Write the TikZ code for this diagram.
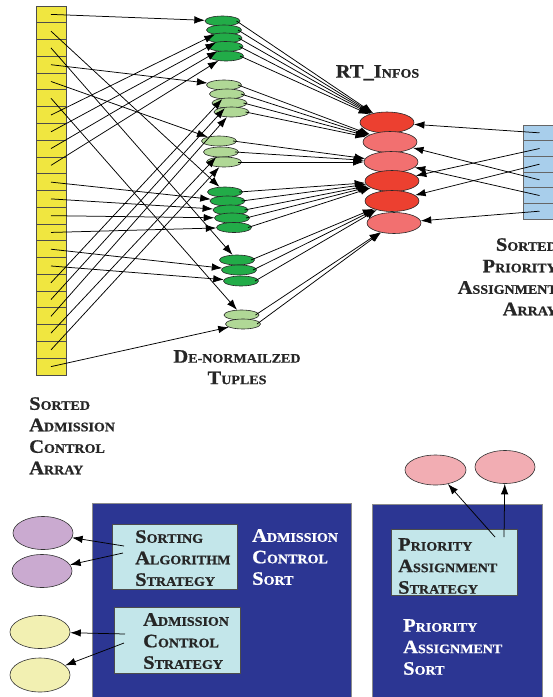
\documentclass[tikz,border=0pt]{standalone}
\usepackage{fontspec}
\newfontfamily\scfont{Liberation Serif}[FakeStretch=1.08, BoldFeatures={FakeBold=0.8}]
\usetikzlibrary{shapes.geometric,arrows.meta}
\definecolor{cellyellow}{RGB}{240,230,64}
\definecolor{cellblue}{RGB}{168,206,235}
\definecolor{dkgreen}{RGB}{34,172,72}
\definecolor{ltgreen}{RGB}{176,216,150}
\definecolor{dkred}{RGB}{236,64,48}
\definecolor{ltred}{RGB}{242,112,112}
\definecolor{navybox}{RGB}{44,54,147}
\definecolor{cyanbox}{RGB}{195,230,234}
\definecolor{lilac}{RGB}{202,170,208}
\definecolor{paleyellow}{RGB}{242,240,178}
\definecolor{pinkell}{RGB}{242,173,179}
\newcommand\Sc[2]{{\fontsize{19}{21.5}\selectfont #1}#2}
\begin{document}
\begin{tikzpicture}[x=1pt,y=-1pt,
  lbl/.style={inner sep=0pt, font=\scfont\bfseries\fontsize{13}{21.5}\selectfont, text=black!85},
  wlbl/.style={lbl, text=white},
  ycell/.style={draw=black!70, line width=0.9pt, fill=cellyellow, minimum width=30pt, minimum height=16.77pt, inner sep=0pt},
  bcell/.style={draw=black!60, line width=0.6pt, fill=cellblue, minimum width=33pt, minimum height=15.67pt, inner sep=0pt},
  gell/.style={ellipse, draw=black!85, line width=0.6pt, minimum width=35pt, minimum height=10pt, inner sep=0pt},
  dg/.style={gell, fill=dkgreen},
  lg/.style={gell, fill=ltgreen},
  rell/.style={ellipse, draw=black!85, line width=0.6pt, minimum width=54pt, minimum height=21pt, inner sep=0pt},
  dr/.style={rell, fill=dkred},
  lr/.style={rell, fill=ltred},
  bigell/.style={ellipse, draw=black!80, line width=0.6pt, minimum width=60pt, minimum height=32pt, inner sep=0pt},
  bluebox/.style={draw=black!45, line width=0.8pt, fill=navybox, inner sep=0pt},
  cyanrect/.style={draw=black!70, line width=0.8pt, fill=cyanbox, inner sep=0pt},
  arr/.style={-{Latex[length=10.5pt,width=7.5pt]}, line width=0.75pt, black},
]
\useasboundingbox (0,0) rectangle (553,697);

% left array
\foreach \i in {1,...,22}
  \node[ycell] (c\i) at (51,{6+(\i-0.5)*16.773}) {};

% right array
\foreach \i in {1,...,6}
  \node[bcell] (rc\i) at (539.5,{125+(\i-0.5)*15.67}) {};

% green ellipses
\node[dg] (g11) at (222.5,21) {};
\node[dg] (g12) at (224,30) {};
\node[dg] (g13) at (224.5,38) {};
\node[dg] (g14) at (225.5,46.5) {};
\node[dg] (g15) at (226,56) {};
\node[lg] (g21) at (224,85) {};
\node[lg] (g22) at (227,94) {};
\node[lg] (g23) at (229.5,103) {};
\node[lg] (g24) at (231.5,112) {};
\node[lg] (g31) at (219,141) {};
\node[lg] (g32) at (221,152) {};
\node[lg] (g33) at (224,162) {};
\node[dg] (g41) at (225,192) {};
\node[dg] (g42) at (227.5,201) {};
\node[dg] (g43) at (230.5,210) {};
\node[dg] (g44) at (232,218) {};
\node[dg] (g45) at (234,227.5) {};
\node[dg] (g51) at (237,260) {};
\node[dg] (g52) at (239,270) {};
\node[dg] (g53) at (241,281) {};
\node[lg] (g61) at (241.5,315) {};
\node[lg] (g62) at (243,324) {};

% red ellipses
\node[dr] (r1) at (387,122.5) {};
\node[lr] (r2) at (390,142) {};
\node[lr] (r3) at (391,162) {};
\node[dr] (r4) at (392,181) {};
\node[dr] (r5) at (392,201) {};
\node[lr] (r6) at (394,223) {};

% arrows: left array -> tuples
\foreach \c/\g in {1/11,2/41,3/51,4/21,5/31,6/61,7/12,8/13,9/14,10/15,11/42,12/43,13/44,14/45,15/52,16/53,17/22,18/23,19/24,20/32,21/33,22/62}
  \draw[arr] (c\c.center) -- (g\g);

% arrows: tuples -> RT infos
\foreach \g/\r in {11/1,12/1,13/1,14/1,15/1,21/2,22/2,23/2,24/2,31/3,32/3,33/3,41/4,42/4,43/4,44/4,45/4,51/5,52/5,53/5,61/6,62/6}
  \draw[arr] ([xshift=14pt]g\g.center) -- (r\r);

% arrows: priority array -> RT infos
\foreach \a/\b in {1/1,2/4,3/5,4/2,5/3,6/6}
  \draw[arr] (rc\a.center) -- (r\b);

% labels top part
\node[lbl, anchor=north] (rtl) at (377.5,65) {\Sc{RT\_I}{NFOS}};
\node[lbl, anchor=north, align=center] (dnt) at (237,350) {\Sc{D}{E-NORMAILZED}\\\Sc{T}{UPLES}};
\node[lbl, anchor=north west, align=left] (saca) at (29,397) {\Sc{S}{ORTED}\\\Sc{A}{DMISSION}\\\Sc{C}{ONTROL}\\\Sc{A}{RRAY}};
\node[lbl, anchor=north east, align=right] (spaa) at (557,238) {\Sc{S}{ORTED}\\\Sc{P}{RIORITY}\\\Sc{A}{SSIGNMENT}\\\Sc{A}{RRAY}};

% bottom left: admission control sort
\node[bluebox, minimum width=259pt, minimum height=197pt, anchor=north west] (acs) at (92,503) {};
\node[cyanrect, minimum width=125pt, minimum height=65pt, anchor=north west] (sas) at (112,524) {};
\node[cyanrect, minimum width=126pt, minimum height=66pt, anchor=north west] (acst) at (114,607) {};
\node[lbl, anchor=north west, align=left] (sast) at (135,530) {\Sc{S}{ORTING}\\\Sc{A}{LGORITHM}\\\Sc{S}{TRATEGY}};
\node[lbl, anchor=north west, align=left] (acstt) at (143,613) {\Sc{A}{DMISSION}\\\Sc{C}{ONTROL}\\\Sc{S}{TRATEGY}};
\node[wlbl, anchor=north west, align=left] (acsl) at (252,529) {\Sc{A}{DMISSION}\\\Sc{C}{ONTROL}\\\Sc{S}{ORT}};

\node[bigell, fill=lilac, minimum height=33pt] (p1) at (43,533) {};
\node[bigell, fill=lilac, minimum height=33pt] (p2) at (42,571) {};
\node[bigell, fill=paleyellow, minimum height=33pt] (y1) at (40,632) {};
\node[bigell, fill=paleyellow, minimum height=34pt] (y2) at (40,675) {};

\coordinate (a1) at (124,546);
\coordinate (a2) at (123,553);
\coordinate (a3) at (125,634);
\coordinate (a4) at (124,643);
\draw[arr] (a1) -- (p1);
\draw[arr] (a2) -- (p2);
\draw[arr] (a3) -- (y1);
\draw[arr] (a4) -- (y2);

% bottom right: priority assignment sort
\node[bluebox, minimum width=170pt, minimum height=196pt, anchor=north west] (pas) at (372,504) {};
\node[cyanrect, minimum width=126pt, minimum height=66pt, anchor=north west] (past) at (391,529) {};
\node[lbl, anchor=north west, align=left] (pastt) at (398,538) {\Sc{P}{RIORITY}\\\Sc{A}{SSIGNMENT}\\\Sc{S}{TRATEGY}};
\node[wlbl, anchor=north west, align=left] (pasl) at (403,619) {\Sc{P}{RIORITY}\\\Sc{A}{SSIGNMENT}\\\Sc{S}{ORT}};

\node[bigell, fill=pinkell, minimum width=61pt, minimum height=30pt] (k1) at (435.5,470) {};
\node[bigell, fill=pinkell, minimum width=60pt, minimum height=33pt] (k2) at (505,467) {};
\coordinate (b1) at (495,537);
\coordinate (b2) at (504,537);
\draw[arr] (b1) -- (k1);
\draw[arr] (b2) -- (k2);
\end{tikzpicture}
\end{document}
